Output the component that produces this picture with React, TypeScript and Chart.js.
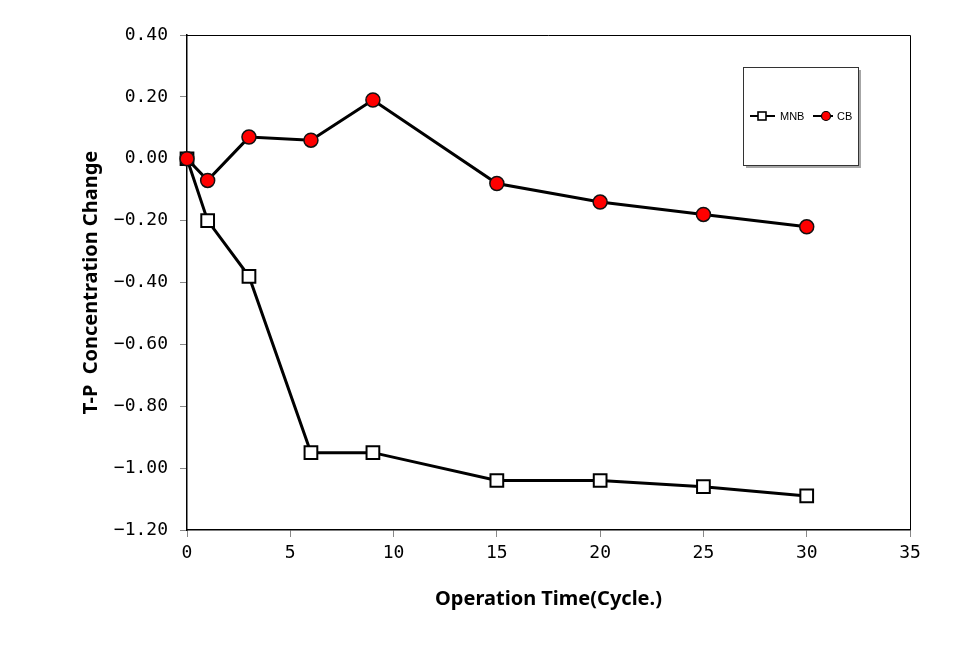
import React, { useEffect, useRef } from "react";
import { Chart, registerables } from "chart.js";

Chart.register(...registerables);

const cycles = [0, 1, 3, 6, 9, 15, 20, 25, 30];
const mnbValues = [0, -0.2, -0.38, -0.95, -0.95, -1.04, -1.04, -1.06, -1.09];
const cbValues = [0, -0.07, 0.07, 0.06, 0.19, -0.08, -0.14, -0.18, -0.22];
const seriesNames = ["MNB", "CB"];
const xTitle = "Operation Time(Cycle.)";
const yTitle = "T-P  Concentration Change";

const tickFont = { family: "'DejaVu Sans Mono', monospace", size: 18 };
const titleFont = { family: "'Noto Sans', sans-serif", size: 20, weight: "bold" as const };

const framePlugin = {
  id: "frame",
  afterDraw(chart: any) {
    const { ctx, chartArea } = chart;
    const { left, right, top, bottom } = chartArea;
    ctx.save();
    ctx.strokeStyle = "#000";
    ctx.lineWidth = 1;
    ctx.beginPath();
    ctx.moveTo(left, top + 0.5);
    ctx.lineTo(right + 0.5, top + 0.5);
    ctx.lineTo(right + 0.5, bottom);
    ctx.stroke();

    // legend box
    const bx = right - 167;
    const by = top + 32;
    const bw = 115;
    const bh = 98;
    ctx.fillStyle = "rgba(0,0,0,0.35)";
    ctx.fillRect(bx + 3, by + 3, bw, bh);
    ctx.fillStyle = "#fff";
    ctx.fillRect(bx, by, bw, bh);
    ctx.strokeStyle = "#333";
    ctx.lineWidth = 1;
    ctx.strokeRect(bx + 0.5, by + 0.5, bw, bh);

    const ly = by + 49;
    ctx.font = "11px 'Liberation Sans', sans-serif";
    ctx.textBaseline = "middle";
    ctx.textAlign = "left";
    // MNB item
    ctx.strokeStyle = "#000";
    ctx.lineWidth = 2;
    ctx.beginPath();
    ctx.moveTo(bx + 7, ly);
    ctx.lineTo(bx + 32, ly);
    ctx.stroke();
    ctx.fillStyle = "#fff";
    ctx.fillRect(bx + 15, ly - 4, 8, 8);
    ctx.lineWidth = 1.6;
    ctx.strokeRect(bx + 15, ly - 4, 8, 8);
    ctx.fillStyle = "#000";
    ctx.fillText(seriesNames[0], bx + 37, ly + 1);
    // CB item
    ctx.lineWidth = 2;
    ctx.beginPath();
    ctx.moveTo(bx + 70, ly);
    ctx.lineTo(bx + 90, ly);
    ctx.stroke();
    ctx.beginPath();
    ctx.arc(bx + 83, ly, 4.5, 0, Math.PI * 2);
    ctx.fillStyle = "#ff0000";
    ctx.fill();
    ctx.lineWidth = 1.2;
    ctx.stroke();
    ctx.fillStyle = "#000";
    ctx.fillText(seriesNames[1], bx + 94, ly + 1);
    ctx.restore();
  },
};

export default function App() {
  const ref = useRef<HTMLCanvasElement | null>(null);

  useEffect(() => {
    if (!ref.current) return;
    const chart = new Chart(ref.current, {
      type: "line",
      data: {
        datasets: [
          {
            label: seriesNames[1],
            data: cycles.map((x, i) => ({ x, y: cbValues[i] })),
            borderColor: "#000",
            borderWidth: 3,
            pointStyle: "circle",
            pointRadius: 7,
            pointBackgroundColor: "#ff0000",
            pointBorderColor: "#111",
            pointBorderWidth: 1.5,
            clip: false as any,
            order: 0,
          },
          {
            label: seriesNames[0],
            data: cycles.map((x, i) => ({ x, y: mnbValues[i] })),
            borderColor: "#000",
            borderWidth: 3,
            pointStyle: "rect",
            pointRadius: 9,
            pointBackgroundColor: "#fff",
            pointBorderColor: "#000",
            pointBorderWidth: 2,
            clip: false as any,
            order: 1,
          },
        ],
      },
      options: {
        animation: false,
        responsive: false,
        maintainAspectRatio: false,
        layout: { padding: { left: 79, top: 35, right: 55, bottom: 60 } },
        plugins: {
          legend: { display: false },
          tooltip: { enabled: false },
        },
        scales: {
          x: {
            type: "linear",
            min: 0,
            max: 35,
            ticks: {
              stepSize: 5,
              font: tickFont,
              color: "#000",
              padding: 6,
              callback: (v: any) => String(v),
            },
            grid: {
              drawOnChartArea: false,
              drawTicks: true,
              tickLength: 7,
              color: "#888",
            },
            border: { display: true, color: "#000", width: 1.5 },
            title: {
              display: true,
              text: xTitle,
              font: titleFont,
              color: "#000",
              padding: 0,
            },
            afterFit: (s: any) => {
              s.height = 81;
            },
          },
          y: {
            type: "linear",
            min: -1.2,
            max: 0.4,
            ticks: {
              stepSize: 0.2,
              font: tickFont,
              color: "#000",
              padding: 12,
              callback: (v: any) => Number(v).toFixed(2).replace("-", "\u2212"),
            },
            grid: {
              drawOnChartArea: false,
              drawTicks: true,
              tickLength: 7,
              color: "#888",
            },
            border: { display: true, color: "#000", width: 1.5 },
            title: {
              display: true,
              text: yTitle,
              font: titleFont,
              color: "#000",
              padding: 0,
            },
            afterFit: (s: any) => {
              s.width = 108;
            },
          },
        },
      },
      plugins: [framePlugin],
    });
    return () => chart.destroy();
  }, []);

  return (
    <div style={{ position: "fixed", left: 0, top: 0, width: 965, height: 671, background: "#fff" }}>
      <canvas ref={ref} width={965} height={671} style={{ display: "block" }} />
    </div>
  );
}
